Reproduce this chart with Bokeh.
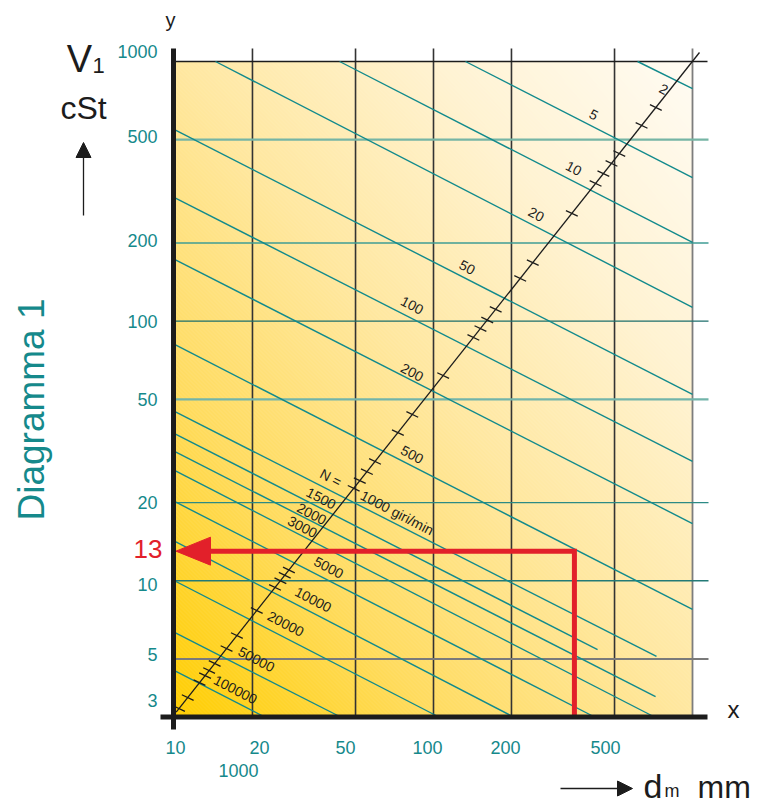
import numpy as np
from bokeh.plotting import figure
from bokeh.models import Range1d, LogScale, ColumnDataSource, Arrow, NormalHead
from bokeh.core.properties import value
from bokeh.embed import file_html
from bokeh.resources import INLINE

# ---------------- data ----------------
N_SPEEDS = [2, 5, 10, 20, 50, 100, 200, 500, 1000, 1500, 2000, 3000, 5000,
            10000, 20000, 50000, 100000]
N_LABELS = ["2", "5", "10", "20", "50", "100", "200", "500", "1000 giri/min",
            "1500", "2000", "3000", "5000", "10000", "20000", "50000", "100000"]
LINE_DM_START = [613.5, 132.9, 43.4, 14.4, 10, 10, 10, 10, 10, 10, 10, 10, 10,
                 10, 10, 10, 10]
LINE_V_START = [1000, 1000, 1000, 1000, 547, 299, 173, 81.3, 44.9, 36.9, 31.5,
                26.6, 20.2, 14.2, 10.0, 6.32, 4.51]
LINE_DM_END = [1000, 1000, 1000, 1000, 1000, 1000, 1000, 1000, 726, 430, 720,
               707, 415, 202, 104, 43.4, 22.1]
LINE_V_END = [787, 357, 201, 113, 52.2, 28.8, 16.6, 7.75, 5.11, 5.43, 3.58,
              3, 3, 3, 3, 3, 3]

DIAG_DM = [10.15, 1064]
DIAG_V = [3.12, 1083]
DIAG_TICK_V = [665, 567, 442, 405, 370, 339, 260, 168, 146, 111, 101, 93.6,
               86.5, 61.7, 43.7, 37.2, 28.8, 26.3, 24.3, 22.7, 11.0, 10.5, 10.0,
               9.42, 7.68, 6.15, 5.48, 4.80, 4.51, 4.31, 4.05, 3.55, 3.22]

X_TICKS = [10, 20, 50, 100, 200, 500]
X_TICK_LABELS = ["10", "20", "50", "100", "200", "500"]
X_EXTRA_LABEL = "1000"
Y_TICKS = [1000, 500, 200, 100, 50, 20, 10, 5, 3]
Y_TICK_LABELS = ["1000", "500", "200", "100", "50", "20", "10", "5", "3"]
GRID_X = [20, 50, 100, 200, 500, 1000]
GRID_Y = [500, 200, 100, 50, 20, 10, 5]

EXAMPLE_DM = 350
EXAMPLE_V = 13

# ---------------- layout / style ----------------
W, H = 758, 803
PAGE = 0
XDEC, YDEC = 259.0, 259.624       # pixels per decade
PX_DM10, PY_V1000 = 174.0, 61.0   # page pixel of dm=10 and v=1000


def dx(px):
    return 10 ** (1 + (px - PX_DM10) / XDEC)


def dy(py):
    return 10 ** (3 - (py - PY_V1000) / YDEC)


def vshift(v, dpx):
    return v * 10 ** (-dpx / YDEC)


def hshift(d, dpx):
    return d * 10 ** (dpx / XDEC)


TEAL = "#128a8c"
TEAL_TXT = "#15898b"
INK = "#1c1c1c"
RED = "#e2202a"
FONT = "Liberation Sans"

p = figure(width=W, height=H,
           x_range=Range1d(dx(PAGE), dx(PAGE + W)),
           y_range=Range1d(dy(PAGE + H), dy(PAGE)),
           x_scale=LogScale(), y_scale=LogScale(),
           x_axis_type="log", y_axis_type="log",
           x_axis_location=None, y_axis_location=None,
           toolbar_location=None, output_backend="svg",
           min_border=0, outline_line_color=None)
p.background_fill_color = "white"
p.border_fill_color = "white"
p.grid.visible = False

# ---- background gradient (bottom-left gold -> top-right white) with faint hatch ----
GH, GW = 655, 518
u = (np.linspace(0, 1, GW)[None, :] + np.linspace(0, 1, GH)[:, None]) / 2.0
stops = [0.0, 0.25, 0.5, 0.75, 1.0]
Rc = [255, 255, 255, 255, 255]
Gc = [206, 220, 232, 243, 252]
Bc = [0, 95, 160, 210, 244]
rows_from_top = (GH - 1 - np.arange(GH))[:, None]
cols = np.arange(GW)[None, :]
stripe = ((cols - rows_from_top) % 4 == 0).astype(float) * 0.10
img = np.empty((GH, GW), dtype=np.uint32)
view = img.view(dtype=np.uint8).reshape((GH, GW, 4))
for ch, col in enumerate((Rc, Gc, Bc)):
    base = np.interp(u, stops, col)
    view[..., ch] = np.clip(base + (255 - base) * stripe, 0, 255).astype(np.uint8)
view[..., 3] = 255
p.image_rgba(image=[img], x=10, y=3, dw=990, dh=997)

# ---- grid ----
top_v = dy(48)
right_dm = dx(708)
p.segment(x0=GRID_X[:-1], y0=[3] * 5, x1=GRID_X[:-1], y1=[top_v] * 5,
          line_color="#333333", line_width=1.6)
p.segment(x0=[GRID_X[-1]], y0=[3], x1=[GRID_X[-1]], y1=[top_v],
          line_color="#7d7d7d", line_width=1.8)
gy_colors = ["#76b5a5", "#3f9c94", "#1c6e6b", "#72b4aa", "#2c8a85", "#237a76", "#7a7a7a"]
gy_widths = [2.4, 1.4, 1.4, 2.2, 1.4, 1.4, 2.0]
p.segment(x0=[10] * len(GRID_Y), y0=GRID_Y, x1=[right_dm] * len(GRID_Y), y1=GRID_Y,
          line_color=gy_colors, line_width=gy_widths)
# top border
p.segment(x0=[10], y0=[1000], x1=[dx(707)], y1=[1000], line_color=INK, line_width=1.5)

# ---- speed lines ----
src = ColumnDataSource(dict(x0=LINE_DM_START, y0=LINE_V_START,
                            x1=LINE_DM_END, y1=LINE_V_END, n=N_SPEEDS))
p.segment(x0="x0", y0="y0", x1="x1", y1="y1", source=src,
          line_color=TEAL, line_width=1.4)

# ---- diagonal speed scale ----
p.line(x=DIAG_DM, y=DIAG_V, line_color=INK, line_width=1.3)
ldm0, ldm1 = np.log10(DIAG_DM)
lv0, lv1 = np.log10(DIAG_V)
tv = np.log10(DIAG_TICK_V)
tdm = ldm0 + (tv - lv0) * (ldm1 - ldm0) / (lv1 - lv0)
ddx, ddy = 5.9 / XDEC, 2.8 / YDEC
p.segment(x0=10 ** (tdm - ddx), y0=10 ** (tv + ddy),
          x1=10 ** (tdm + ddx), y1=10 ** (tv - ddy),
          line_color=INK, line_width=1.3)

N_LABEL_PX = [(663.3, 88.7), (593.3, 114), (573.3, 167.7), (535.7, 213.7),
              (466.7, 266.7), (411.7, 304.7), (411.7, 371.7), (411.7, 454),
              (396.7, 512.3), (320.7, 497.7), (311.3, 513.3), (302, 526.3),
              (328.3, 567), (312.7, 599), (285.3, 623.3), (256, 658.7), (235, 689)]
ANG = -0.48


def add_text(pxs, pys, texts, size, color=INK, font=FONT, align="center",
             baseline="middle", angle=0.0, style="normal"):
    p.text(x=[dx(v) for v in pxs], y=[dy(v) for v in pys], text=texts,
           text_font=value(font), text_font_size=value(size), text_color=color,
           text_align=value(align), text_baseline=value(baseline), angle=angle,
           text_font_style=value(style))


add_text([q[0] for q in N_LABEL_PX], [q[1] for q in N_LABEL_PX], N_LABELS,
         "14px", angle=ANG)
add_text([330.3], [477.3], ["N ="], "14px", angle=ANG)

# ---- red example ----
p.line(x=[EXAMPLE_DM, EXAMPLE_DM, dx(200)], y=[3, EXAMPLE_V, EXAMPLE_V],
       line_color=RED, line_width=5, line_join="miter")
p.patch(x=[dx(175.5), dx(210), dx(210)],
        y=[EXAMPLE_V, vshift(EXAMPLE_V, -14), vshift(EXAMPLE_V, 14)],
        fill_color=RED, line_color=RED, line_width=1)

# ---- axes lines ----
p.segment(x0=[dx(173)], y0=[dy(48)], x1=[dx(173)], y1=[dy(729)],
          line_color=INK, line_width=5, line_cap="butt")
p.segment(x0=[dx(160)], y0=[dy(716.5)], x1=[dx(707)], y1=[dy(716.5)],
          line_color=INK, line_width=5, line_cap="butt")

# ---- tick labels ----
Y_LABEL_SHIFT = [-10, -3, -2, 0, 0, 0, 4, -4, -16]
p.text(x=[dx(157)] * len(Y_TICKS),
       y=[vshift(v, s) for v, s in zip(Y_TICKS, Y_LABEL_SHIFT)],
       text=Y_TICK_LABELS, text_font=value(FONT), text_font_size=value("18px"),
       text_color=TEAL_TXT, text_align=value("right"), text_baseline=value("middle"))
X_LABEL_SHIFT = [1, 7, -10, -6, -6, -9]
p.text(x=[hshift(v, s) for v, s in zip(X_TICKS, X_LABEL_SHIFT)],
       y=[dy(747)] * len(X_TICKS),
       text=X_TICK_LABELS, text_font=value(FONT), text_font_size=value("18px"),
       text_color=TEAL_TXT, text_align=value("center"), text_baseline=value("middle"))
add_text([238], [770], [X_EXTRA_LABEL], "18px", color=TEAL_TXT)
p.text(x=[dx(162)], y=[vshift(EXAMPLE_V, -2)], text=[str(EXAMPLE_V)],
       text_font=value(FONT), text_font_size=value("26px"), text_color=RED,
       text_align=value("right"), text_baseline=value("middle"))

# ---- axis titles (anchored at glyph centres) ----
add_text([79], [58], ["V"], "38px")
add_text([92], [65], ["1"], "22px", align="left")
add_text([83], [107], ["cSt"], "32px")
add_text([170], [19], ["y"], "20px")
add_text([733], [709], ["x"], "24px")
add_text([31], [409], ["Diagramma 1"], "37px", color=TEAL_TXT, angle=np.pi / 2)
add_text([643], [785], ["d"], "34px", align="left")
add_text([664], [790], ["m"], "18px", align="left")
add_text([697], [786], ["mm"], "32px", align="left")

head = dict(fill_color=INK, line_color=INK, line_width=1)
p.add_layout(Arrow(x_start=dx(83), y_start=dy(215), x_end=dx(83), y_end=dy(142),
                   end=NormalHead(size=15, **head), line_color=INK, line_width=1.3))
p.add_layout(Arrow(x_start=dx(560), y_start=dy(788), x_end=dx(632), y_end=dy(788),
                   end=NormalHead(size=15, **head), line_color=INK, line_width=1.3))

open("out.html", "w").write(file_html(p, INLINE))
